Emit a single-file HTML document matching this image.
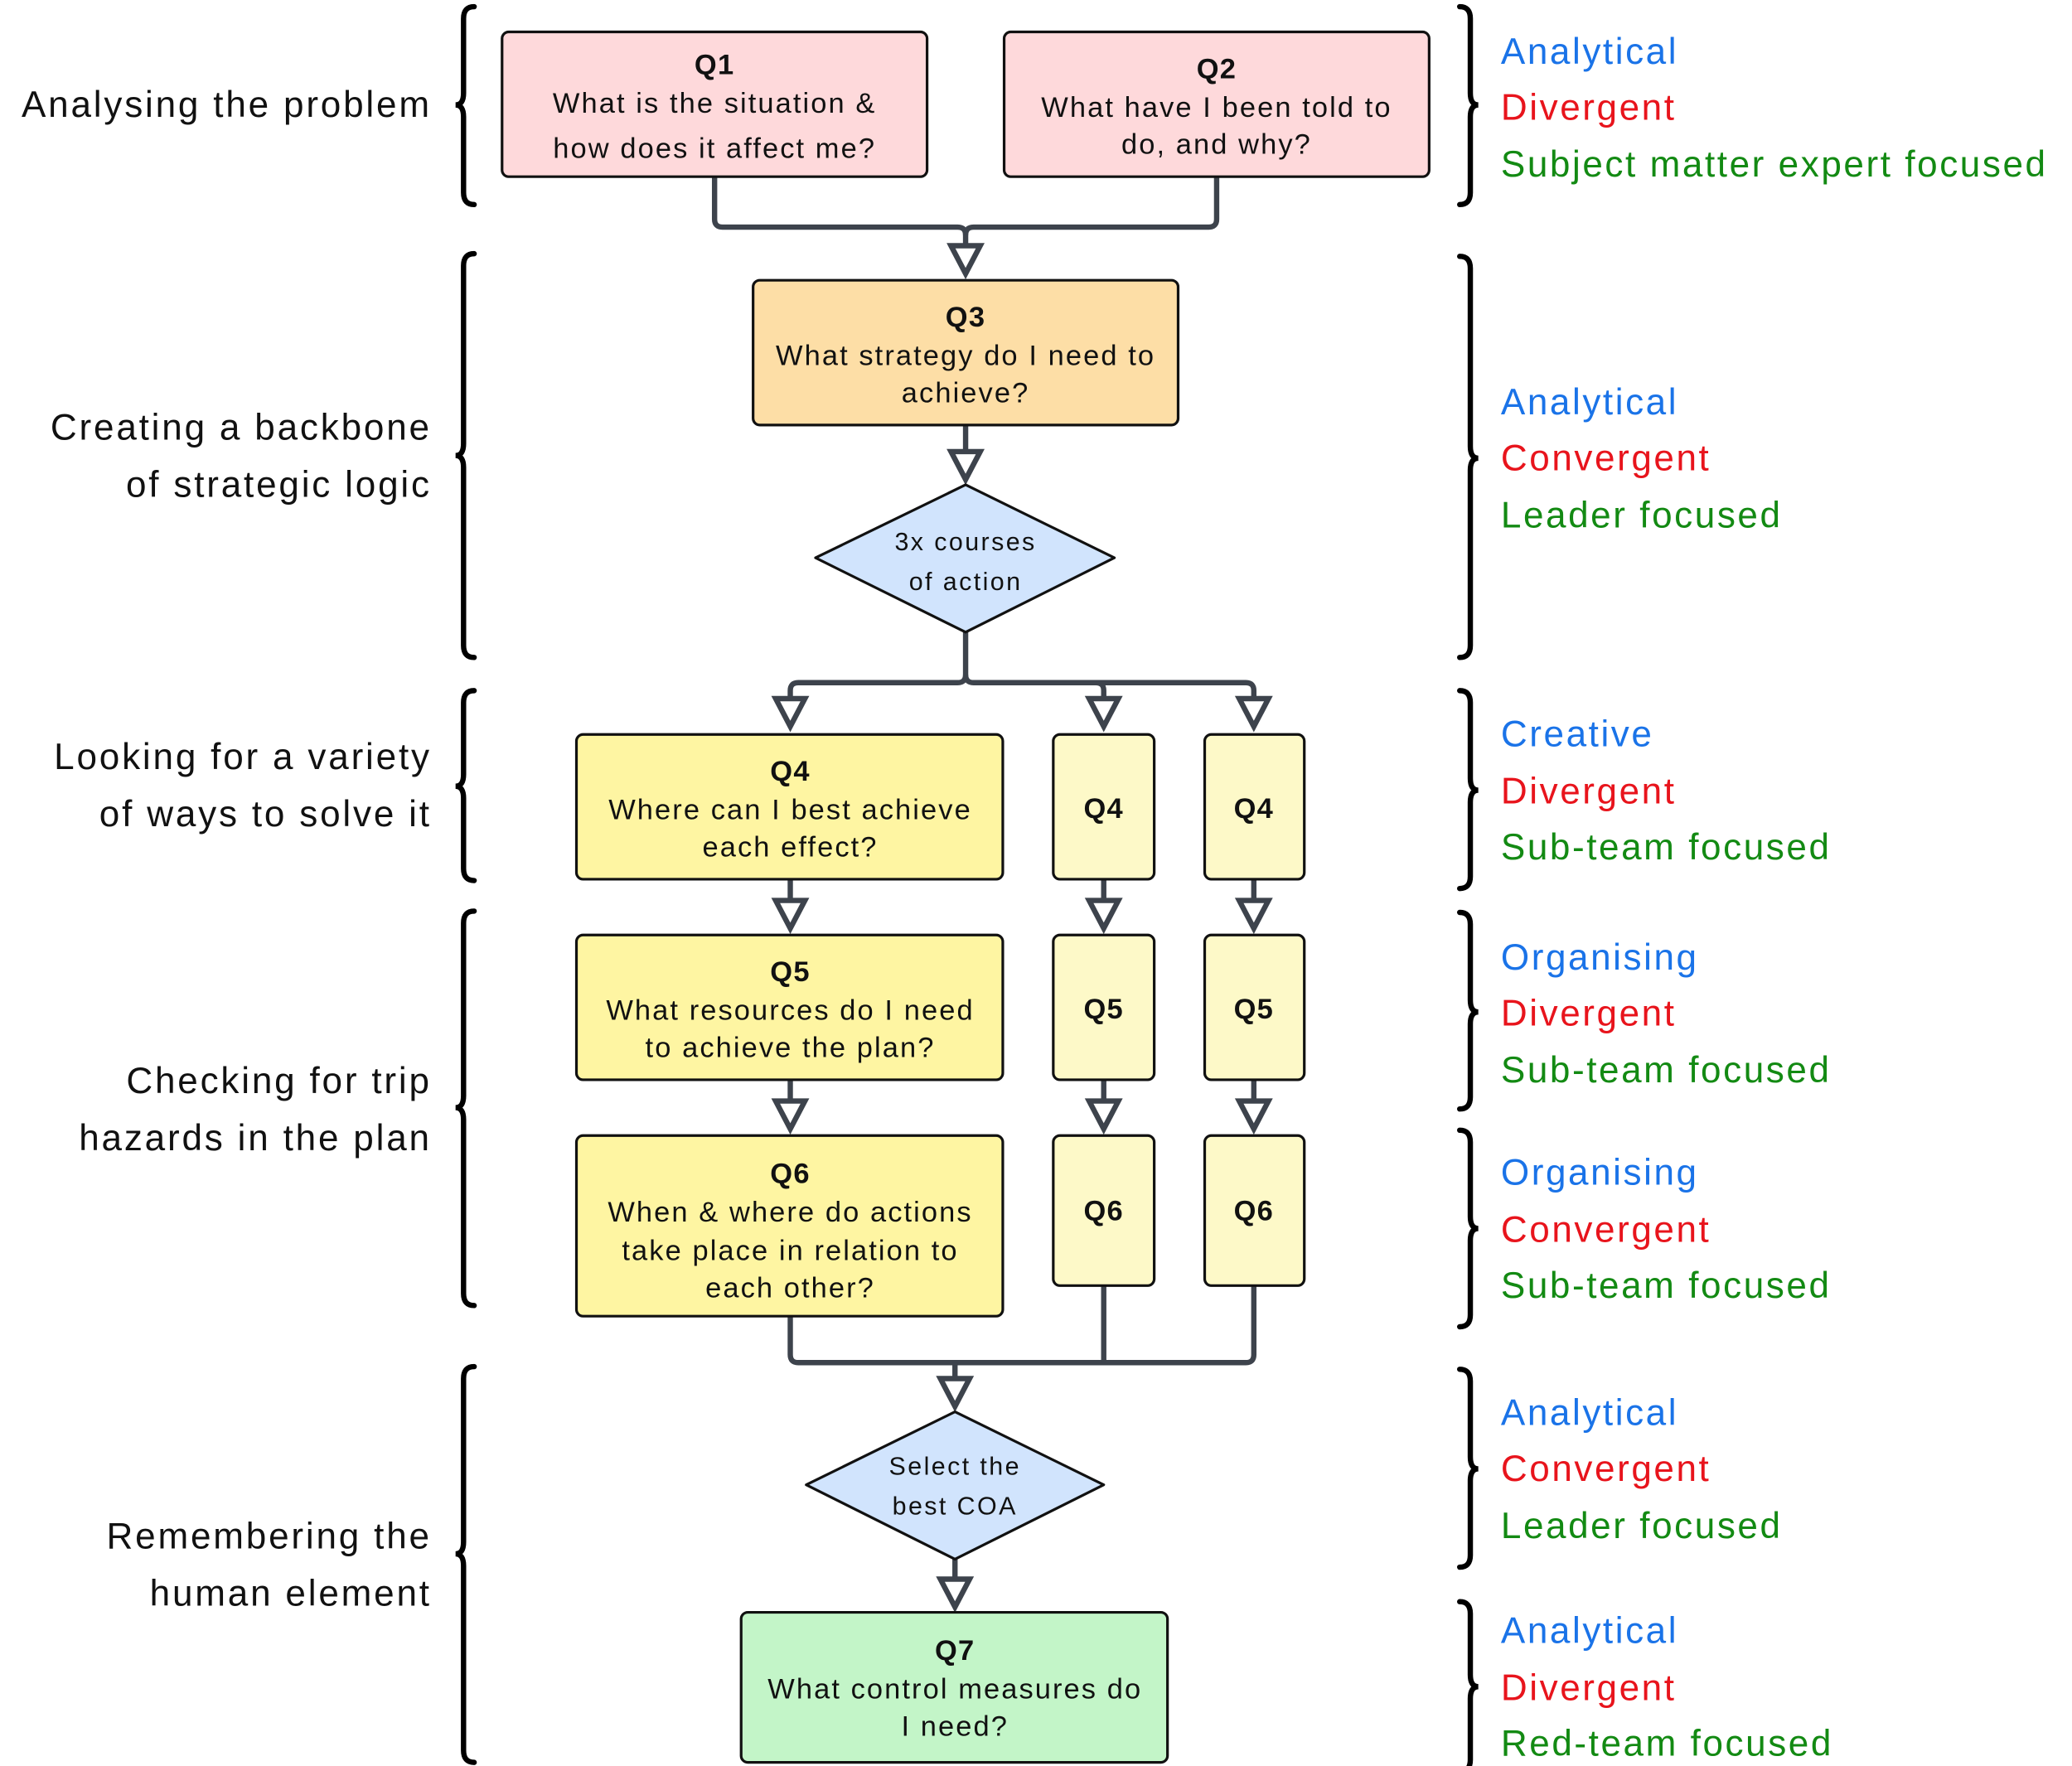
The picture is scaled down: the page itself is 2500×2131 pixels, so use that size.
<!DOCTYPE html>
<html><head><meta charset="utf-8"><style>html,body{margin:0;padding:0;background:#fff}svg{display:block}</style></head><body>
<svg width="2500" height="2131" viewBox="0 0 1560 1329.7" xmlns="http://www.w3.org/2000/svg" font-family="'Liberation Sans', sans-serif">
<defs>
<g id="ar"><path d="M-11,0 L11,0 L0,21 Z" fill="#fff" stroke="#3d434c" stroke-width="4" stroke-linejoin="miter"/></g>
</defs>
<g fill="none" stroke="#3d434c" stroke-width="4" stroke-linejoin="round">
<path d="M538,133 V165 Q538,171 544,171 H721 Q727,171 727,177 V184"/>
<path d="M916,133 V165 Q916,171 910,171 H733 Q727,171 727,177"/>
<path d="M727,320 V340"/>
<path d="M727,476 V508 Q727,514 721,514 H601 Q595,514 595,520 V526"/>
<path d="M727,508 Q727,514 733,514 H938 Q944,514 944,520 V526"/>
<path d="M825,514 Q831,514 831,520 V526"/>
<path d="M595,662 V678 M831,662 V678 M944,662 V678"/>
<path d="M595,813 V829 M831,813 V829 M944,813 V829"/>
<path d="M595,991 V1020 Q595,1026 601,1026 H938 Q944,1026 944,1020 V968"/>
<path d="M831,968 V1026"/>
<path d="M719,1026 V1038"/>
<path d="M719,1174 V1189"/>
</g>
<use href="#ar" x="727" y="185"/>
<use href="#ar" x="727" y="340"/>
<use href="#ar" x="595" y="526"/><use href="#ar" x="831" y="526"/><use href="#ar" x="944" y="526"/>
<use href="#ar" x="595" y="678"/><use href="#ar" x="831" y="678"/><use href="#ar" x="944" y="678"/>
<use href="#ar" x="595" y="829"/><use href="#ar" x="831" y="829"/><use href="#ar" x="944" y="829"/>
<use href="#ar" x="719" y="1038"/>
<use href="#ar" x="719" y="1189"/>

<g stroke="#111" stroke-width="2">
<rect x="378" y="24" width="320" height="109" rx="5" fill="#fed9db"/>
<rect x="756" y="24" width="320" height="109" rx="5" fill="#fed9db"/>
<rect x="567" y="211" width="320" height="109" rx="5" fill="#fddea6"/>
<path d="M727,365 L839,420 L727,476 L614,420 Z" fill="#d1e4fd" stroke-linejoin="round"/>
<rect x="434" y="553" width="321" height="109" rx="5" fill="#fef5a2"/>
<rect x="793" y="553" width="76" height="109" rx="5" fill="#fdf9c8"/>
<rect x="907" y="553" width="75" height="109" rx="5" fill="#fdf9c8"/>
<rect x="434" y="704" width="321" height="109" rx="5" fill="#fef5a2"/>
<rect x="793" y="704" width="76" height="109" rx="5" fill="#fdf9c8"/>
<rect x="907" y="704" width="75" height="109" rx="5" fill="#fdf9c8"/>
<rect x="434" y="855" width="321" height="136" rx="5" fill="#fef5a2"/>
<rect x="793" y="855" width="76" height="113" rx="5" fill="#fdf9c8"/>
<rect x="907" y="855" width="75" height="113" rx="5" fill="#fdf9c8"/>
<path d="M719,1063 L831,1118 L719,1174 L607,1118 Z" fill="#d1e4fd" stroke-linejoin="round"/>
<rect x="558" y="1214" width="321" height="113" rx="5" fill="#c3f5c8"/>
</g>

<g font-size="21.5" fill="#111" text-anchor="middle" dominant-baseline="central" letter-spacing="1.3">
<g font-weight="bold" letter-spacing="0.8">
<text x="538" y="49">Q1</text><text x="916" y="52">Q2</text><text x="727" y="239">Q3</text>
<text x="595" y="581">Q4</text><text x="831" y="609">Q4</text><text x="944" y="609">Q4</text>
<text x="595" y="732">Q5</text><text x="831" y="760">Q5</text><text x="944" y="760">Q5</text>
<text x="595" y="884">Q6</text><text x="831" y="912">Q6</text><text x="944" y="912">Q6</text>
<text x="719" y="1243">Q7</text>
</g>
<text x="538" y="78">What is the situation &amp;</text><text x="538" y="112">how does it affect me?</text>
<text x="916" y="81">What have I been told to</text><text x="916" y="109">do, and why?</text>
<text x="727" y="268">What strategy do I need to</text><text x="727" y="296">achieve?</text>
<text x="595" y="610">Where can I best achieve</text><text x="595" y="638">each effect?</text>
<text x="595" y="761">What resources do I need</text><text x="595" y="789">to achieve the plan?</text>
<text x="595" y="913">When &amp; where do actions</text><text x="595" y="942">take place in relation to</text><text x="595" y="970">each other?</text>
<text x="719" y="1272">What control measures do</text><text x="719" y="1300">I need?</text>
<g font-size="19" letter-spacing="1.5"><text x="727" y="408">3x courses</text><text x="727" y="438">of action</text>
<text x="719" y="1104">Select the</text><text x="719" y="1134">best COA</text></g>
</g>

<g font-size="27.5" fill="#111" text-anchor="end" dominant-baseline="central" letter-spacing="1.75">
<text x="325" y="79">Analysing the problem</text>
<text x="325" y="322">Creating a backbone</text><text x="325" y="365">of strategic logic</text>
<text x="325" y="570">Looking for a variety</text><text x="325" y="613">of ways to solve it</text>
<text x="325" y="814">Checking for trip</text><text x="325" y="857">hazards in the plan</text>
<text x="325" y="1157">Remembering the</text><text x="325" y="1200">human element</text>
</g>

<g font-size="27.5" dominant-baseline="central" letter-spacing="1.6">
<g fill="#1a73e8"><text x="1130" y="39">Analytical</text><text x="1130" y="303">Analytical</text><text x="1130" y="553">Creative</text><text x="1130" y="721">Organising</text><text x="1130" y="883">Organising</text><text x="1130" y="1064">Analytical</text><text x="1130" y="1228">Analytical</text></g>
<g fill="#e8141c"><text x="1130" y="81">Divergent</text><text x="1130" y="345">Convergent</text><text x="1130" y="596">Divergent</text><text x="1130" y="763">Divergent</text><text x="1130" y="926">Convergent</text><text x="1130" y="1106">Convergent</text><text x="1130" y="1271">Divergent</text></g>
<g fill="#138a13"><text x="1130" y="124">Subject matter expert focused</text><text x="1130" y="388">Leader focused</text><text x="1130" y="638">Sub-team focused</text><text x="1130" y="806">Sub-team focused</text><text x="1130" y="968">Sub-team focused</text><text x="1130" y="1149">Leader focused</text><text x="1130" y="1313">Red-team focused</text></g>
</g>

<g fill="none" stroke="#000" stroke-width="4" stroke-linecap="round">
<path d="M357,5 Q349,5 349,14 V70 Q349,79 343,79 Q349,79 349,88 V145 Q349,154 357,154"/>
<path d="M357,191 Q349,191 349,200 V334 Q349,343 343,343 Q349,343 349,352 V486 Q349,495 357,495"/>
<path d="M357,520 Q349,520 349,529 V583 Q349,592 343,592 Q349,592 349,601 V654 Q349,663 357,663"/>
<path d="M357,686 Q349,686 349,695 V825 Q349,834 343,834 Q349,834 349,843 V974 Q349,983 357,983"/>
<path d="M357,1029 Q349,1029 349,1038 V1161 Q349,1170 343,1170 Q349,1170 349,1179 V1318 Q349,1327 357,1327"/>
<path d="M1099,5 Q1107,5 1107,14 V70 Q1107,79 1113,79 Q1107,79 1107,88 V145 Q1107,154 1099,154"/>
<path d="M1099,193 Q1107,193 1107,202 V336 Q1107,345 1113,345 Q1107,345 1107,354 V486 Q1107,495 1099,495"/>
<path d="M1099,520 Q1107,520 1107,529 V586 Q1107,595 1113,595 Q1107,595 1107,604 V660 Q1107,669 1099,669"/>
<path d="M1099,687 Q1107,687 1107,696 V753 Q1107,762 1113,762 Q1107,762 1107,771 V826 Q1107,835 1099,835"/>
<path d="M1099,851 Q1107,851 1107,860 V916 Q1107,925 1113,925 Q1107,925 1107,934 V990 Q1107,999 1099,999"/>
<path d="M1099,1031 Q1107,1031 1107,1040 V1097 Q1107,1106 1113,1106 Q1107,1106 1107,1115 V1171 Q1107,1180 1099,1180"/>
<path d="M1099,1206 Q1107,1206 1107,1215 V1261 Q1107,1270 1113,1270 Q1107,1270 1107,1279 V1325 Q1107,1334 1099,1334"/>
</g>
</svg>
</body></html>
